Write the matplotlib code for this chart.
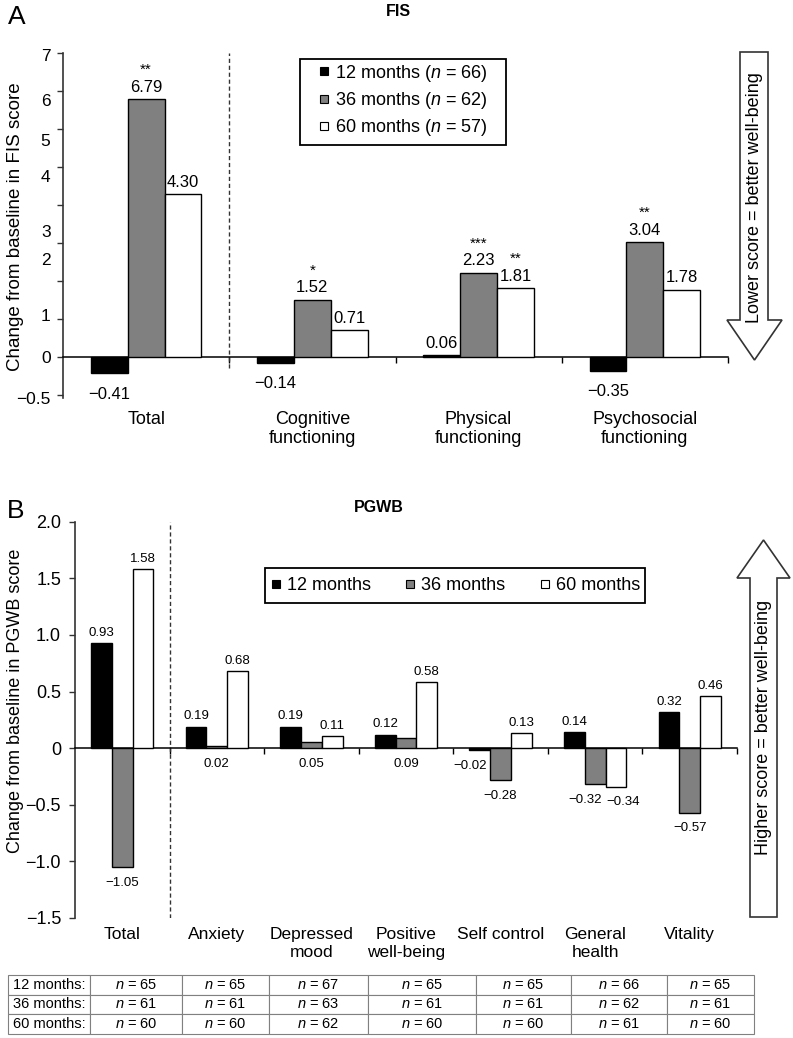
import numpy as np
import matplotlib
matplotlib.use('Agg')
import matplotlib.pyplot as plt
from matplotlib.lines import Line2D
from matplotlib.patches import Polygon, Rectangle

plt.rcParams['font.family'] = ['Liberation Sans', 'DejaVu Sans']
plt.rcParams['mathtext.fontset'] = 'custom'
plt.rcParams['mathtext.rm'] = 'Liberation Sans'
plt.rcParams['mathtext.it'] = 'Liberation Sans:italic'

# %% data
SERIES = ['12 months', '36 months', '60 months']
COLORS = ['#000000', '#808080', '#ffffff']

fis_cats = ['Total', 'Cognitive\nfunctioning', 'Physical\nfunctioning',
            'Psychosocial\nfunctioning']
fis_12 = [-0.41, -0.14, 0.06, -0.35]
fis_36 = [6.79, 1.52, 2.23, 3.04]
fis_60 = [4.30, 0.71, 1.81, 1.78]
fis_sig_12 = ['', '', '', '']
fis_sig_36 = ['**', '*', '***', '**']
fis_sig_60 = ['', '', '**', '']
fis_n = [66, 62, 57]
# the original y labels sit off their tick marks
fis_ytick_labels = ['7', '6', '5', '4', '3', '2', '1', '0', '\u22120.5']
fis_ytick_pos = [7.95, 6.76, 5.72, 4.76, 3.33, 2.59, 1.12, 0, -1.08]

pgwb_cats = ['Total', 'Anxiety', 'Depressed\nmood', 'Positive\nwell-being',
             'Self control', 'General\nhealth', 'Vitality']
pgwb_12 = [0.93, 0.19, 0.19, 0.12, -0.02, 0.14, 0.32]
pgwb_36 = [-1.05, 0.02, 0.05, 0.09, -0.28, -0.32, -0.57]
pgwb_60 = [1.58, 0.68, 0.11, 0.58, 0.13, -0.34, 0.46]
pgwb_yticks = [-1.5, -1.0, -0.5, 0, 0.5, 1.0, 1.5, 2.0]
pgwb_ytick_labels = ['\u22121.5', '\u22121.0', '\u22120.5', '0', '0.5', '1.0',
                     '1.5', '2.0']

n_12 = [65, 65, 67, 65, 65, 66, 65]
n_36 = [61, 61, 63, 61, 61, 62, 61]
n_60 = [60, 60, 62, 60, 60, 61, 60]

# %% helpers
W, H = 793, 1038
fig = plt.figure(figsize=(W / 100, H / 100), dpi=100)


def fx(x):
    return x / W


def fy(y):
    return 1 - y / H


def axes_px(left, top, right, bottom):
    return fig.add_axes([fx(left), fy(bottom), (right - left) / W,
                         (bottom - top) / H])


def fmt(v):
    return ('%.2f' % v).replace('-', '\u2212')


def bar_panel(ax, cats, series, sigs, width, fs, neg_off, gray_below=False,
              nudge=None):
    nudge = nudge or {}
    x = np.arange(len(cats)) + 0.5
    for k, vals in enumerate(series):
        xs = x + (k - 1) * width
        ax.bar(xs, vals, width, color=COLORS[k], edgecolor='black', lw=1.0,
               zorder=3)
        for j, (xi, v) in enumerate(zip(xs, vals)):
            dx = nudge.get((k, j), 0)
            if v < 0 or (gray_below and k == 1):
                ax.annotate(fmt(v), (xi, min(v, 0)), xytext=(dx, neg_off),
                            textcoords='offset points', ha='center',
                            va='top', fontsize=fs)
            else:
                ax.annotate(fmt(v), (xi, v), xytext=(dx, 3),
                            textcoords='offset points', ha='center',
                            va='bottom', fontsize=fs)
            if sigs is not None and sigs[k][j]:
                ax.annotate(sigs[k][j], (xi, v), xytext=(0, 16),
                            textcoords='offset points', ha='center',
                            va='bottom', fontsize=11)
    ax.set_xlim(0, len(cats))
    for s in ['top', 'right']:
        ax.spines[s].set_visible(False)
    ax.spines['bottom'].set_position(('data', 0))
    ax.spines['bottom'].set_color('black')
    ax.spines['bottom'].set_linewidth(1.1)
    ax.spines['left'].set_color('#333333')
    ax.spines['left'].set_linewidth(1.2)
    ax.set_xticks(np.arange(1, len(cats) + 1))
    ax.tick_params(axis='x', direction='out', length=4, width=1,
                   labelbottom=False)
    ax.tick_params(axis='y', direction='out', length=4, width=1,
                   colors='#333333', labelcolor='black')
    ax.patch.set_alpha(0)


# %% panel A: FIS
axA = axes_px(63, 53.3, 728, 398.3)
bar_panel(axA, fis_cats, [fis_12, fis_36, fis_60],
          [fis_sig_12, fis_sig_36, fis_sig_60], 0.222, 12, -10)
axA.set_ylim(-1, 8)
axA.yaxis.remove_overlapping_locs = False
axA.set_yticks(np.arange(-1, 9), labels=[''] * 10)
axA.set_yticks(fis_ytick_pos, labels=fis_ytick_labels, minor=True)
axA.tick_params(axis='y', which='minor', length=0, pad=9, labelsize=12.5)
axA.axvline(1, ymin=0.8 / 9, ymax=1, ls=(0, (3, 2)), color='#333333', lw=1)
for i, c in enumerate(fis_cats):
    axA.annotate(c, (i + 0.5, 0), xycoords=('data', 'axes fraction'),
                 xytext=(0, -9.5), textcoords='offset points', ha='center',
                 va='top', fontsize=13, linespacing=1.1)

# %% panel B: PGWB
axB = axes_px(75, 521.7, 737, 918)
bar_panel(axB, pgwb_cats, [pgwb_12, pgwb_36, pgwb_60], None, 0.22, 9.5, -7,
          gray_below=True, nudge={(0, 4): -7, (1, 5): -7, (2, 5): 5})
axB.set_ylim(-1.5, 2.0)
axB.set_yticks(pgwb_yticks, labels=pgwb_ytick_labels)
axB.tick_params(axis='y', pad=6, labelsize=13)
axB.axvline(1, ls=(0, (3, 2)), color='#333333', lw=1)
for i, c in enumerate(pgwb_cats):
    axB.annotate(c, (i + 0.5, 0), xycoords=('data', 'axes fraction'),
                 xytext=(0, -6.5), textcoords='offset points', ha='center',
                 va='top', fontsize=12.5, linespacing=1.25)

# %% titles, axis labels
fig.text(fx(17), fy(17), 'A', fontsize=19, ha='center', va='center')
fig.text(fx(16), fy(511), 'B', fontsize=19, ha='center', va='center')
fig.text(fx(398), fy(12), 'FIS', fontsize=11.5, fontweight='bold',
         ha='center', va='center')
fig.text(fx(379), fy(507), 'PGWB', fontsize=11.5, fontweight='bold',
         ha='center', va='center')
fig.text(fx(16), fy(227), 'Change from baseline in FIS score', fontsize=13.5,
         rotation=90, ha='center', va='center')
fig.text(fx(16), fy(701), 'Change from baseline in PGWB score', fontsize=13,
         rotation=90, ha='center', va='center')

# %% legends
handles = [Line2D([], [], ls='none', marker='s', markersize=6,
                  markerfacecolor=c, markeredgecolor='black',
                  markeredgewidth=0.8) for c in COLORS]
fig.legend(handles, ['%s ($\\mathit{n}$ = %d)' % (s, n)
                     for s, n in zip(SERIES, fis_n)],
           loc='center left', bbox_to_anchor=(fx(315), fy(100.5)),
           frameon=False, fontsize=13, handlelength=1.0, handletextpad=0.11,
           labelspacing=0.35, borderpad=0, borderaxespad=0)
fig.add_artist(Rectangle((fx(300), fy(145)), (506 - 300) / W, (145 - 59) / H,
                         transform=fig.transFigure, fill=False,
                         edgecolor='black', lw=1.3))
fig.legend(handles, SERIES, loc='center left', ncol=3,
           bbox_to_anchor=(fx(267), fy(585.5)), frameon=False, fontsize=13,
           handlelength=1.0, handletextpad=0.11, columnspacing=1.68,
           borderpad=0, borderaxespad=0)
fig.add_artist(Rectangle((fx(265), fy(603)), (645 - 265) / W, (603 - 568) / H,
                         transform=fig.transFigure, fill=False,
                         edgecolor='black', lw=1.3))

# %% direction arrows
arrow_down = [(740, 52), (768, 52), (768, 320), (782, 320), (754.5, 360),
              (727, 320), (740, 320)]
arrow_up = [(750, 917), (777, 917), (777, 578), (790, 578), (763.5, 540),
            (737, 578), (750, 578)]
for verts in [arrow_down, arrow_up]:
    fig.add_artist(Polygon([(fx(a), fy(b)) for a, b in verts], closed=True,
                           facecolor='white', edgecolor='#333333', lw=1.2,
                           transform=fig.transFigure))
fig.text(fx(754.5), fy(198), 'Lower score = better well-being', fontsize=13,
         rotation=90, ha='center', va='center')
fig.text(fx(763.5), fy(727), 'Higher score = better well-being', fontsize=13,
         rotation=90, ha='center', va='center')

# %% n table
col_edges = np.array([8, 90, 182, 269, 368, 476, 571, 667, 754])
axT = axes_px(8, 975, 754, 1034)
axT.axis('off')
rows = [['%s:' % s] + ['$\\mathit{n}$ = %d' % v for v in vals]
        for s, vals in zip(SERIES, [n_12, n_36, n_60])]
tb = axT.table(cellText=rows, colWidths=list(np.diff(col_edges) / 746),
               bbox=[0, 0, 1, 1], cellLoc='center')
tb.auto_set_font_size(False)
tb.set_fontsize(10.5)
for cell in tb.get_celld().values():
    cell.set_edgecolor('#808080')
    cell.set_linewidth(0.8)

fig.savefig('out.png', dpi=100)
